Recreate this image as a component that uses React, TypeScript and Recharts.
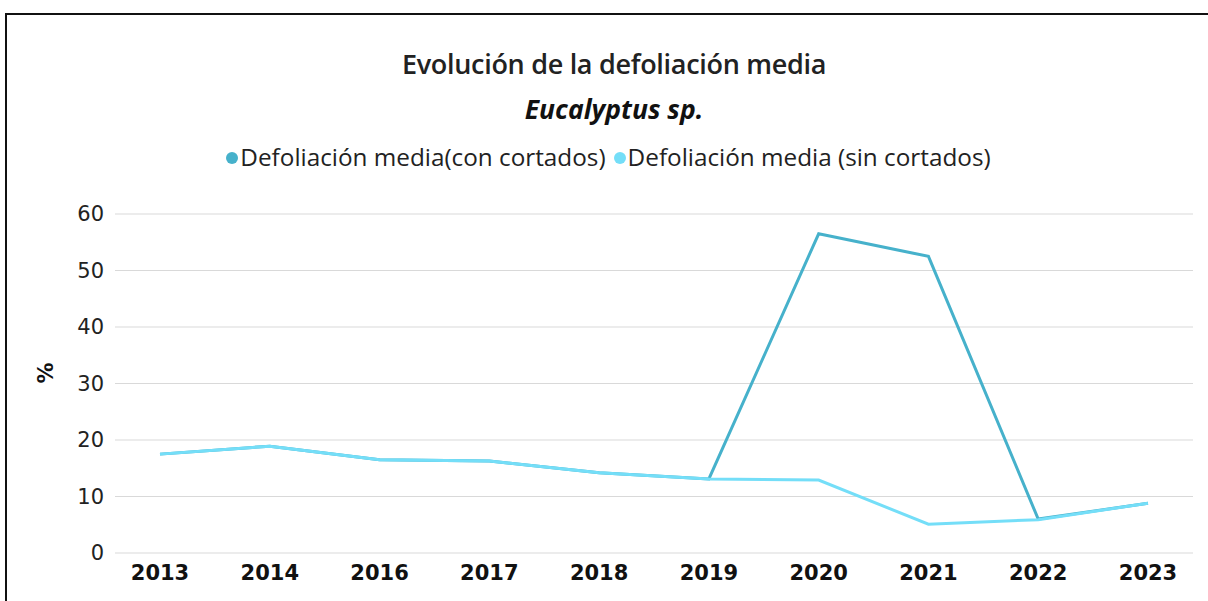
import { CartesianGrid, Line, LineChart, XAxis, YAxis } from "recharts";

const years = ["2013", "2014", "2016", "2017", "2018", "2019", "2020", "2021", "2022", "2023"];
const conCortados = [17.5, 18.9, 16.5, 16.3, 14.2, 13.1, 56.5, 52.5, 6.0, 8.8];
const sinCortados = [17.5, 18.9, 16.5, 16.3, 14.2, 13.1, 12.9, 5.1, 5.9, 8.8];
const yTicks = [0, 10, 20, 30, 40, 50, 60];

const series = [
  { key: "con", name: "Defoliación media(con cortados)", color: "#46b1cb" },
  { key: "sin", name: "Defoliación media (sin cortados)", color: "#74def8" },
];

const data = years.map((y, i) => ({ year: y, con: conCortados[i], sin: sinCortados[i] }));

const textFont = "'Open Sans', sans-serif";
const tickFont = "'DejaVu Sans', sans-serif";

export default function App() {
  return (
    <div style={{ position: "fixed", left: 0, top: 0, width: 1208, height: 601, overflow: "hidden", background: "#fff" }}>
      <div style={{ position: "absolute", left: 5, top: 13, width: 1300, height: 700, border: "2px solid #111" }} />
      <div style={{ position: "absolute", top: 45, left: 0, width: 1228, textAlign: "center", fontFamily: textFont, fontSize: 27, fontWeight: 600, color: "#222", letterSpacing: -0.3 }}>
        Evolución de la defoliación media
      </div>
      <div style={{ position: "absolute", top: 91, left: 0, width: 1228, textAlign: "center", fontFamily: textFont, fontSize: 26.5, fontWeight: "bold", fontStyle: "italic", color: "#111" }}>
        Eucalyptus sp.
      </div>
      <div style={{ position: "absolute", top: 140, left: 0, width: 1225, textAlign: "center", fontFamily: textFont, fontSize: 24.3, color: "#222", whiteSpace: "nowrap" }}>
        {series.map((s) => (
          <span key={s.key} style={{ marginRight: 8 }}>
            <span style={{ display: "inline-block", width: 12, height: 12, borderRadius: 6, background: s.color, marginRight: 2, verticalAlign: "middle", position: "relative", top: -2 }} />
            {s.name}
          </span>
        ))}
      </div>
      <div style={{ position: "absolute", left: 0, top: 0 }}>
        <LineChart width={1208} height={601} data={data} margin={{ top: 214, right: 15, bottom: 0, left: 0 }}>
          <CartesianGrid vertical={false} stroke="#d9d9d9" strokeWidth={1.2} />
          <XAxis
            dataKey="year"
            axisLine={false}
            tickLine={false}
            height={48}
            padding={{ left: 45, right: 45 }}
            tickMargin={6}
            tick={{ fill: "#111", fontSize: 21, fontFamily: tickFont, fontWeight: "bold" }}
          />
          <YAxis
            domain={[0, 60]}
            ticks={yTicks}
            width={115}
            axisLine={false}
            tickLine={false}
            tickMargin={5}
            tick={{ fill: "#222", fontSize: 21, fontFamily: tickFont }}
            label={{ value: "%", angle: -90, position: "insideLeft", offset: 46, fill: "#111", fontSize: 21, fontWeight: "bold", fontFamily: tickFont }}
          />
          {series.map((s) => (
            <Line key={s.key} dataKey={s.key} name={s.name} stroke={s.color} strokeWidth={3} dot={false} isAnimationActive={false} />
          ))}
        </LineChart>
      </div>
    </div>
  );
}
